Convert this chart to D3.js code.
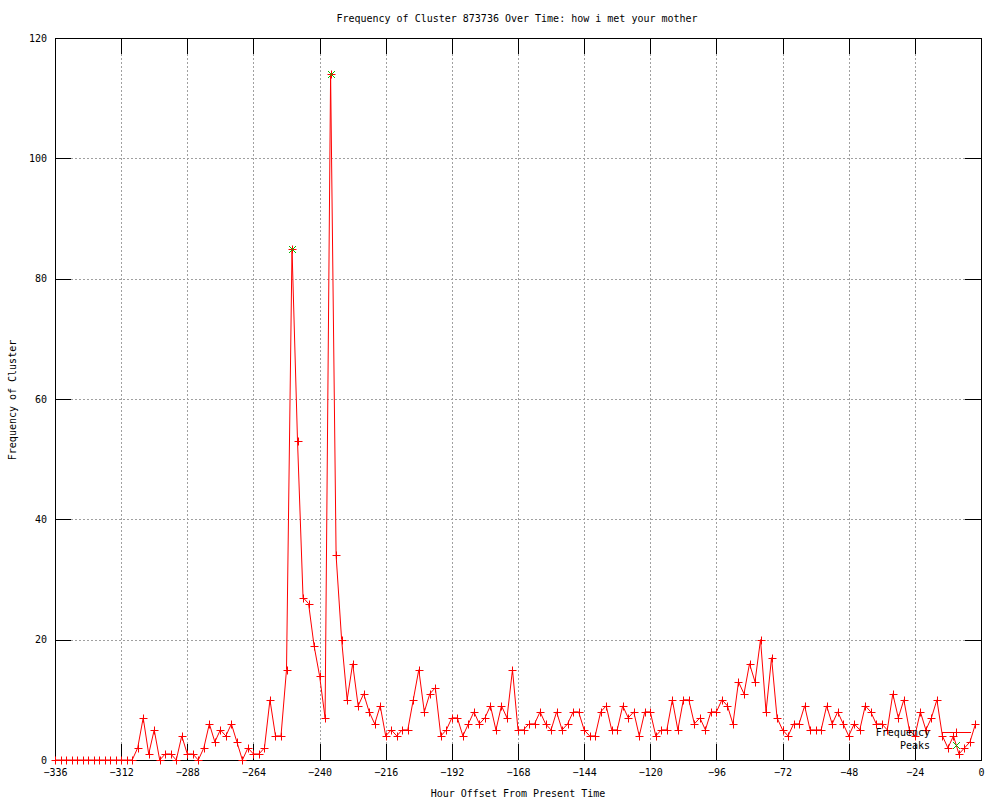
<!DOCTYPE html>
<html>
<head>
<meta charset="utf-8">
<script src="https://cdn.jsdelivr.net/npm/d3@7"></script>
<style>
  html, body { margin: 0; padding: 0; background: #fff; }
  svg text { font-family: "DejaVu Sans Mono", "Liberation Mono", monospace; font-size: 10px; fill: #000; }
</style>
</head>
<body>
<svg id="chart" width="1000" height="800"></svg>
<script>
const title = "Frequency of Cluster 873736 Over Time: how i met your mother";
const xLabel = "Hour Offset From Present Time";
const yLabel = "Frequency of Cluster";

const hours = [
  -336,-334,-332,-330,-328,-326,-324,-322,-320,-318,-316,-314,
  -312,-310,-308,-306,-304,-302,-300,-298,-296,-294,-292,-290,
  -288,-286,-284,-282,-280,-278,-276,-274,-272,-270,-268,-266,
  -264,-262,-260,-258,-256,-254,-252,-250,-248,-246,-244,-242,
  -240,-238,-236,-234,-232,-230,-228,-226,-224,-222,-220,-218,
  -216,-214,-212,-210,-208,-206,-204,-202,-200,-198,-196,-194,
  -192,-190,-188,-186,-184,-182,-180,-178,-176,-174,-172,-170,
  -168,-166,-164,-162,-160,-158,-156,-154,-152,-150,-148,-146,
  -144,-142,-140,-138,-136,-134,-132,-130,-128,-126,-124,-122,
  -120,-118,-116,-114,-112,-110,-108,-106,-104,-102,-100,-98,
  -96,-94,-92,-90,-88,-86,-84,-82,-80,-78,-76,-74,
  -72,-70,-68,-66,-64,-62,-60,-58,-56,-54,-52,-50,
  -48,-46,-44,-42,-40,-38,-36,-34,-32,-30,-28,-26,
  -24,-22,-20,-18,-16,-14,-12,-10,-8,-6,-4,-2
];
const frequency = [
  0,0,0,0,0,0,0,0,0,0,0,0,
  0,0,0,2,7,1,5,0,1,1,0,4,
  1,1,0,2,6,3,5,4,6,3,0,2,
  1,1,2,10,4,4,15,85,53,27,26,19,
  14,7,114,34,20,10,16,9,11,8,6,9,
  4,5,4,5,5,10,15,8,11,12,4,5,
  7,7,4,6,8,6,7,9,5,9,7,15,
  5,5,6,6,8,6,5,8,5,6,8,8,
  5,4,4,8,9,5,5,9,7,8,4,8,
  8,4,5,5,10,5,10,10,6,7,5,8,
  8,10,9,6,13,11,16,13,20,8,17,7,
  5,4,6,6,9,5,5,5,9,6,8,6,
  4,6,5,9,8,6,6,5,11,7,10,5,
  4,8,5,7,10,4,2,4,1,2,3,6
];
const peakHours = [-250, -236];
const peakValues = [85, 114];
const xTicks = [-336,-312,-288,-264,-240,-216,-192,-168,-144,-120,-96,-72,-48,-24,0];
const yTicks = [0,20,40,60,80,100,120];
const legendLabels = ["Frequency", "Peaks"];

const svg = d3.select("#chart");
const L = 55, R = 981, T = 38, B = 760;
const x = d3.scaleLinear().domain([-336, 0]).range([L, R]);
const y = d3.scaleLinear().domain([0, 120]).range([B, T]);
const tickLen = 16;
const red = "#ff0000", green = "#00c000", gridCol = "#a0a0a0";

// grid
const grid = svg.append("g").attr("shape-rendering", "crispEdges");
grid.selectAll("line.vx").data(xTicks.filter(t => t !== -336 && t !== 0)).enter()
  .append("line").attr("x1", d => Math.round(x(d)) + 0.5).attr("x2", d => Math.round(x(d)) + 0.5)
  .attr("y1", T).attr("y2", B)
  .attr("stroke", gridCol).attr("stroke-width", 1).attr("stroke-dasharray", "2,2");
grid.selectAll("line.hy").data(yTicks.filter(t => t !== 0 && t !== 120)).enter()
  .append("line").attr("y1", d => Math.round(y(d)) + 0.5).attr("y2", d => Math.round(y(d)) + 0.5)
  .attr("x1", L).attr("x2", R)
  .attr("stroke", gridCol).attr("stroke-width", 1).attr("stroke-dasharray", "2,2");

// axes with inward ticks on all 4 sides
const axB = d3.axisBottom(x).tickValues(xTicks).tickSize(-tickLen).tickPadding(9).tickFormat(d3.format("d"));
const axT = d3.axisTop(x).tickValues(xTicks).tickSize(-tickLen).tickFormat("");
const axL = d3.axisLeft(y).tickValues(yTicks).tickSize(-tickLen).tickPadding(8).tickFormat(d3.format("d"));
const axR = d3.axisRight(y).tickValues(yTicks).tickSize(-tickLen).tickFormat("");

function styleAxis(g) {
  g.select(".domain").remove();
  g.selectAll(".tick line").attr("stroke", "#000").attr("shape-rendering", "crispEdges");
  g.selectAll("text").attr("font-family", "DejaVu Sans Mono, monospace").attr("font-size", 10).attr("fill", "#000");
}
svg.append("g").attr("transform", `translate(0,${B})`).call(axB).call(styleAxis);
svg.append("g").attr("transform", `translate(0,${T})`).call(axT).call(styleAxis);
svg.append("g").attr("transform", `translate(${L},0)`).call(axL).call(styleAxis);
svg.append("g").attr("transform", `translate(${R},0)`).call(axR).call(styleAxis);

// border
svg.append("rect").attr("x", L + 0.5).attr("y", T + 0.5).attr("width", R - L).attr("height", B - T)
  .attr("fill", "none").attr("stroke", "#000").attr("stroke-width", 1).attr("shape-rendering", "crispEdges");

// data line
const pts = hours.map((h, i) => [h, frequency[i]]);
svg.append("path").datum(pts)
  .attr("d", d3.line().x(d => x(d[0])).y(d => y(d[1])))
  .attr("fill", "none").attr("stroke", red).attr("stroke-width", 1);

function plus(g, cx, cy, col) {
  g.append("path").attr("d", `M${cx - 4},${cy}H${cx + 4}M${cx},${cy - 4}V${cy + 4}`)
    .attr("stroke", col).attr("stroke-width", 1).attr("fill", "none");
}
function cross(g, cx, cy, col) {
  g.append("path").attr("d", `M${cx - 3.5},${cy - 3.5}L${cx + 3.5},${cy + 3.5}M${cx - 3.5},${cy + 3.5}L${cx + 3.5},${cy - 3.5}`)
    .attr("stroke", col).attr("stroke-width", 1).attr("fill", "none");
}
const mk = svg.append("g");
pts.forEach(d => plus(mk, Math.round(x(d[0])) + 0.5, Math.round(y(d[1])) + 0.5, red));
const pk = svg.append("g");
peakHours.forEach((h, i) => cross(pk, Math.round(x(h)) + 0.5, Math.round(y(peakValues[i])) + 0.5, green));

// legend
const lg = svg.append("g");
lg.append("text").attr("x", 930).attr("y", 736).attr("text-anchor", "end").text(legendLabels[0]);
lg.append("line").attr("x1", 942).attr("x2", 971).attr("y1", 732.5).attr("y2", 732.5).attr("stroke", red);
plus(lg, 956.5, 732.5, red);
lg.append("text").attr("x", 930).attr("y", 749).attr("text-anchor", "end").text(legendLabels[1]);
cross(lg, 956.5, 745.5, green);

// titles
svg.append("text").attr("x", 517).attr("y", 22).attr("text-anchor", "middle").text(title);
svg.append("text").attr("x", 518).attr("y", 797).attr("text-anchor", "middle").text(xLabel);
svg.append("text").attr("transform", "translate(16,400) rotate(-90)").attr("text-anchor", "middle").text(yLabel);
</script>
</body>
</html>
